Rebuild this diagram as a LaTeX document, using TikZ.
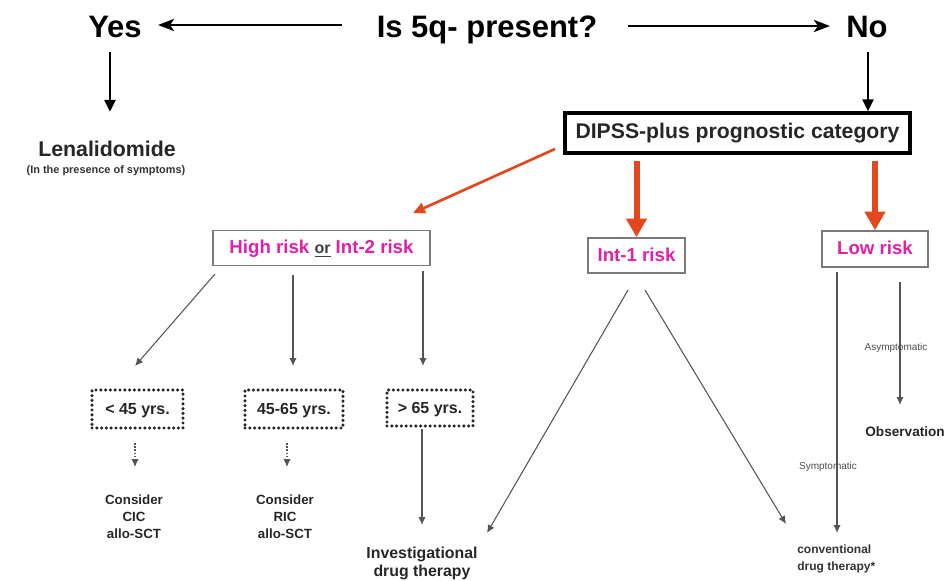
\documentclass[tikz,border=0pt]{standalone}
\usepackage{fontspec}
\setmainfont{Liberation Sans}
\usetikzlibrary{arrows.meta}
\definecolor{pinkt}{HTML}{E020A8}
\definecolor{redar}{HTML}{E2471E}
\definecolor{grayln}{HTML}{555555}
\definecolor{graybox}{HTML}{7A7A7A}
\begin{document}
\begin{tikzpicture}[x=0.75pt,y=-0.75pt,
  bigarr/.style={line width=2.2pt,-{Stealth[length=12pt,width=9pt,inset=3pt]}},
  blackdown/.style={line width=2.2pt,-{Triangle[length=9pt,width=8pt]}},
  thickred/.style={redar,line width=4.5pt,-{Triangle[length=14pt,width=15pt]}},
  thinred/.style={redar,line width=2pt,-{Triangle[length=9pt,width=8pt]}},
  thin/.style={grayln,line width=0.8pt,-{Latex[length=6pt,width=5.5pt]}},
  dotthin/.style={grayln,line width=0.8pt,dash pattern=on 1.2pt off 1.2pt,-{Latex[length=6pt,width=5.5pt]}},
  riskbox/.style={draw=graybox,line width=1.2pt,inner sep=0pt,font=\fontsize{14}{16}\selectfont\bfseries,text=pinkt,text height=10pt,text depth=1pt},
  dotbox/.style={draw=black!85,line width=2.6pt,dash pattern=on 0pt off 3.6pt,line cap=round,inner sep=0pt,font=\fontsize{12}{14}\selectfont\bfseries,text=black!85,text height=8.6pt,text depth=0pt},
  bigtxt/.style={font=\fontsize{23.25}{26}\selectfont\bfseries,inner sep=0pt,anchor=base},
  smalltxt/.style={font=\fontsize{10}{12.75}\selectfont\bfseries,align=center,inner sep=0pt,text=black!85},
  tinytxt/.style={font=\fontsize{7.5}{9}\selectfont,inner sep=0pt,text=black!70}
]
\useasboundingbox (0,0) rectangle (947,581);

% top row
\node[bigtxt] (yes) at (115,38) {Yes};
\node[bigtxt] (q) at (487,38) {Is 5q- present?};
\node[bigtxt] (no) at (867,38) {No};
\coordinate (qL) at (342,25);
\coordinate (yesR) at (158,25);
\coordinate (qR) at (628,26);
\coordinate (noL) at (830,26);
\draw[bigarr] (qL) -- (yesR);
\draw[bigarr] (qR) -- (noL);

% Yes branch
\node[font=\fontsize{16}{18}\selectfont\bfseries,inner sep=0pt,text=black!85] (lena) at (107,149) {Lenalidomide};
\node[font=\fontsize{8.2}{10}\selectfont\bfseries,inner sep=0pt,text=black!80] (lenasub) at (106,171) {(In the presence of symptoms)};
\coordinate (yesB) at (110,52);
\coordinate (lenaT) at (110,112);
\draw[blackdown] (yesB) -- (lenaT);

% No branch
\node[draw=black,line width=2.3pt,minimum width=345*0.75pt,minimum height=40*0.75pt,inner sep=0pt,
  font=\fontsize{15.9}{18}\selectfont\bfseries,text=black!85,text height=11.5pt,text depth=3pt] (dipss) at (737.5,133) {DIPSS-plus prognostic category};
\coordinate (noB) at (868,52);
\draw[blackdown] (noB) -- (dipss.north -| noB);

% risk boxes
\node[riskbox,minimum width=217*0.75pt,minimum height=35*0.75pt] (high) at (321.5,248)
  {High risk {\color{black!75}\fontsize{12}{14}\selectfont\underline{or}} Int-2 risk};
\node[riskbox,minimum width=97*0.75pt,minimum height=35*0.75pt] (int1) at (636.5,255.5) {Int-1 risk};
\node[riskbox,minimum width=106*0.75pt,minimum height=36*0.75pt] (low) at (875,249) {Low risk};

% red arrows
\coordinate (rs) at (555,149);
\coordinate (re) at (413,213);
\draw[thinred] (rs) -- (re);
\draw[thickred] (dipss.south -| int1) ++(0,6) coordinate (r1) -- (int1.north);
\draw[thickred] (dipss.south -| low) ++(0,6) coordinate (r2) -- (low.north);

% age boxes
\node[dotbox,minimum width=91*0.75pt,minimum height=38*0.75pt] (a1) at (137.5,409) {< 45 yrs.};
\node[dotbox,minimum width=98*0.75pt,minimum height=38*0.75pt] (a2) at (294,409) {45-65 yrs.};
\node[dotbox,minimum width=86*0.75pt,minimum height=36*0.75pt] (a3) at (430,408) {> 65 yrs.};

\coordinate (h1) at (215,274);
\coordinate (h1e) at (135,366);
\coordinate (h2) at (293,275);
\coordinate (h2e) at (293,366);
\coordinate (h3) at (423,271);
\coordinate (h3e) at (423,366);
\draw[thin] (h1) -- (h1e);
\draw[thin] (h2) -- (h2e);
\draw[thin] (h3) -- (h3e);

% consider texts
\node[smalltxt] (c1) at (134,517) {Consider\\CIC\\allo-SCT};
\node[smalltxt] (c2) at (285,517) {Consider\\RIC\\allo-SCT};
\coordinate (d1) at (135,443);
\coordinate (d1e) at (135,467);
\coordinate (d2) at (287,443);
\coordinate (d2e) at (287,467);
\draw[dotthin] (d1) -- (d1e);
\draw[dotthin] (d2) -- (d2e);

\node[font=\fontsize{11.9}{13.5}\selectfont\bfseries,align=center,inner sep=0pt,text=black!85] (inv) at (422,563) {Investigational\\drug therapy};
\coordinate (g3) at (422,429);
\coordinate (g3e) at (422,525);
\draw[thin] (g3) -- (g3e);

% Int-1 branches
\coordinate (i1) at (628,290);
\coordinate (i1e) at (487,533);
\coordinate (i2) at (645,290);
\coordinate (i2e) at (786,524);
\draw[thin] (i1) -- (i1e);
\draw[thin] (i2) -- (i2e);

% Low risk branches
\coordinate (l1) at (837,272);
\coordinate (l1e) at (837,533);
\coordinate (l2) at (900,282);
\coordinate (l2e) at (900,405);
\draw[thin] (l1) -- (l1e);
\draw[thin] (l2) -- (l2e);
\node[tinytxt] (asym) at (896,348) {Asymptomatic};
\node[tinytxt] (sym) at (828,467) {Symptomatic};
\node[font=\fontsize{10.2}{12}\selectfont\bfseries,inner sep=0pt,text=black!85,anchor=east] (obs) at (945,432) {Observation};
\node[font=\fontsize{9}{12.75}\selectfont\bfseries,align=left,inner sep=0pt,text=black!80,anchor=west] (conv) at (797,559) {conventional\\drug therapy*};
\end{tikzpicture}
\end{document}
